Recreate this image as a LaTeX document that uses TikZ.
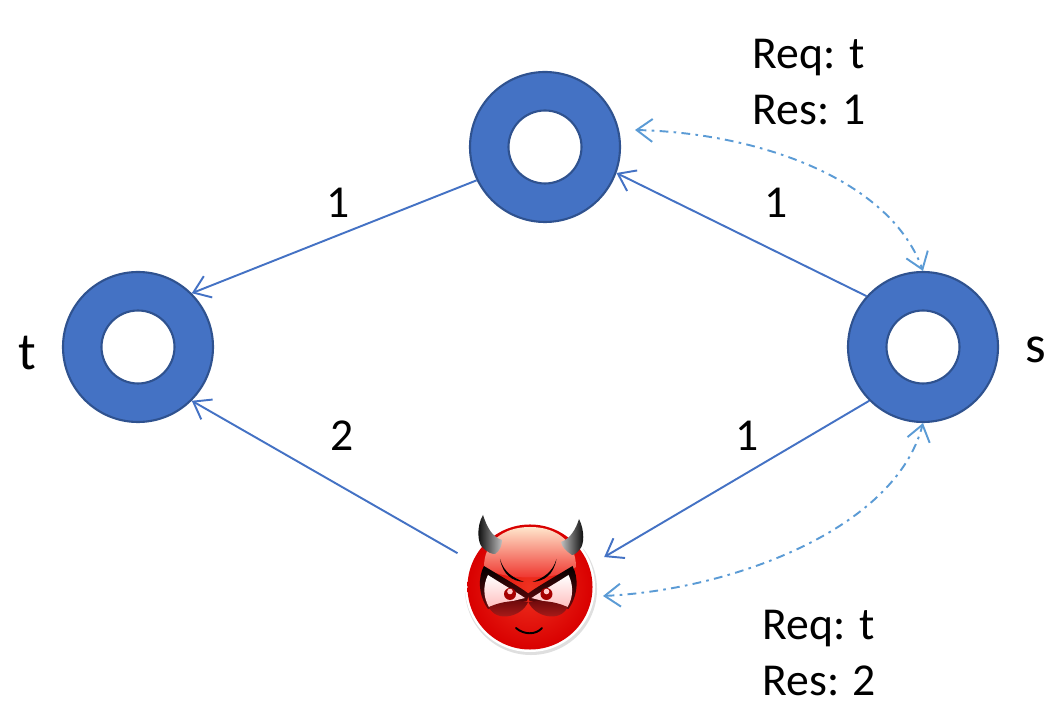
\documentclass[tikz,border=0pt]{standalone}
\usepackage{fontspec}
\setmainfont{Carlito}
\usetikzlibrary{arrows.meta}
\definecolor{ringblue}{HTML}{4472C4}
\definecolor{ringedge}{HTML}{2F528F}
\definecolor{reqblue}{HTML}{5B9BD5}
\definecolor{devilred}{HTML}{EE2A24}
\definecolor{darkred}{HTML}{6E0A0C}
\tikzset{
  >={Straight Barb[length=9pt,width=13pt]},
  router/.style={circle,draw=ringedge,line width=1.2pt,fill=ringblue,minimum size=3cm,inner sep=0pt},
  hole/.style={circle,draw=ringedge,line width=1.2pt,fill=white,minimum size=1.46cm,inner sep=0pt},
  link/.style={->,ringblue,line width=1.1pt},
  query/.style={<->,reqblue,line width=1.1pt,dash pattern=on 5pt off 3pt on 1.5pt off 3pt},
  lbl/.style={font=\fontsize{26}{30}\selectfont,inner sep=0pt},
  endname/.style={font=\fontsize{30}{34}\selectfont,inner sep=0pt},
  reqres/.style={lbl,align=left,font=\fontsize{26}{32}\selectfont},
}
\newcommand{\devileye}{
  \shade[top color=black,bottom color=darkred] (-46,21) .. controls (-28,10) and (-10,0) .. (-1,-7) -- (-3,-14) -- (-42,-22) .. controls (-52,-8) and (-52,10) .. cycle;
  \shade[top color=white,bottom color=red!25!white] (-42,12) .. controls (-28,3) and (-14,-5) .. (-5,-11) -- (-41,-20) .. controls (-47,-10) and (-47,2) .. cycle;
  \shade[top color=darkred,bottom color=devilred!80!black] (-41,-20) .. controls (-28,-14) and (-14,-13) .. (-2,-15) .. controls (-8,-30) and (-34,-36) .. cycle;
  \fill[red!65!black] (-20,-7) circle (6);
  \fill[white!80!red] (-20,-4.5) circle (2.8);
  \fill[black] (-30,28) .. controls (-27,12) and (-18,6) .. (-6,5) .. controls (-16,9) and (-26,14) .. cycle;
}
\begin{document}
\begin{tikzpicture}

  \useasboundingbox (0,0) rectangle (20.98,14.26);

  \node[router] (top) at (10.9,11.32) {};
  \node[hole] (tophole) at (top) {};
  \node[router] (dst) at (2.76,7.32) {};
  \node[hole] (dsthole) at (dst) {};
  \node[router] (src) at (18.46,7.32) {};
  \node[hole] (srchole) at (src) {};

  \node[circle,minimum size=2.6cm,outer sep=0.3cm,inner sep=0pt] (devil) at (10.6,2.52) {};

  % devil, units are pixels of the face
  \begin{scope}[shift={(devil)},x=0.02cm,y=0.02cm]
    \fill[black!25,opacity=0.5] (1,-2) circle (66);
    \fill[white] (0,0) circle (65);
    \fill[white] (-48,77) .. controls (-58,60) and (-58,42) .. (-48,32) -- (-25,40) .. controls (-36,50) and (-40,62) .. cycle;
    \fill[white] (50,74) .. controls (60,56) and (60,38) .. (42,27) -- (26,44) .. controls (38,50) and (44,60) .. cycle;
    \shade[inner color=devilred!90!orange,outer color=red!85!black] (0,0) circle (62.5);
    \shade[top color=orange!20!white,middle color=red!30!white,bottom color=devilred] (0,60) .. controls (28,60) and (46,44) .. (46,20) .. controls (30,6) and (-30,6) .. (-46,20) .. controls (-46,44) and (-28,60) .. (0,60);
    \shade[left color=black,right color=black!25] (-47,72) .. controls (-54,60) and (-52,44) .. (-48,40) .. controls (-42,34) and (-38,33) .. (-35,33) .. controls (-30,36) and (-28,42) .. (-28,47) .. controls (-38,50) and (-43,60) .. cycle;
    \shade[left color=black!25,right color=black] (49,68) .. controls (55,56) and (54,42) .. (50,38) .. controls (47,34) and (44,32) .. (42,32) .. controls (36,36) and (32,40) .. (31,45) .. controls (40,48) and (46,58) .. cycle;
    \devileye
    \begin{scope}[xscale=-1,xshift=2]
      \devileye
    \end{scope}
    \draw[black,line width=1.1pt,line cap=round] (-14,-41) .. controls (-6,-48) and (6,-48) .. (12,-41);
  \end{scope}

  \draw[link] (top.206) -- (dst.45);
  \draw[link] (src.138) -- (top.340);
  \draw[link] (src.225) -- (devil.22);
  \draw[link] (devil.155) -- (dst.315);

  \coordinate (topquery) at (12.7,11.66);
  \coordinate (devilquery) at (12.06,2.34);
  \draw[query] (topquery) .. controls (15.2,11.6) and (17.8,10.66) .. (src.north);
  \draw[query] (devilquery) .. controls (14.6,2.46) and (17.9,3.66) .. (src.south);

  \node[lbl] (ltop) at (6.76,10.2) {1};
  \node[lbl] (rtop) at (15.52,10.2) {1};
  \node[lbl] (lbot) at (6.84,5.54) {2};
  \node[lbl] (rbot) at (14.94,5.54) {1};
  \node[endname] (tname) at (0.54,7.2) {t};
  \node[endname] (sname) at (20.72,7.26) {s};

  \node[reqres,anchor=west] (topmsg) at (15.04,12.62) {Req: t\\Res: 1};
  \node[reqres,anchor=west] (devmsg) at (15.24,1.2) {Req: t\\Res: 2};

\end{tikzpicture}
\end{document}
